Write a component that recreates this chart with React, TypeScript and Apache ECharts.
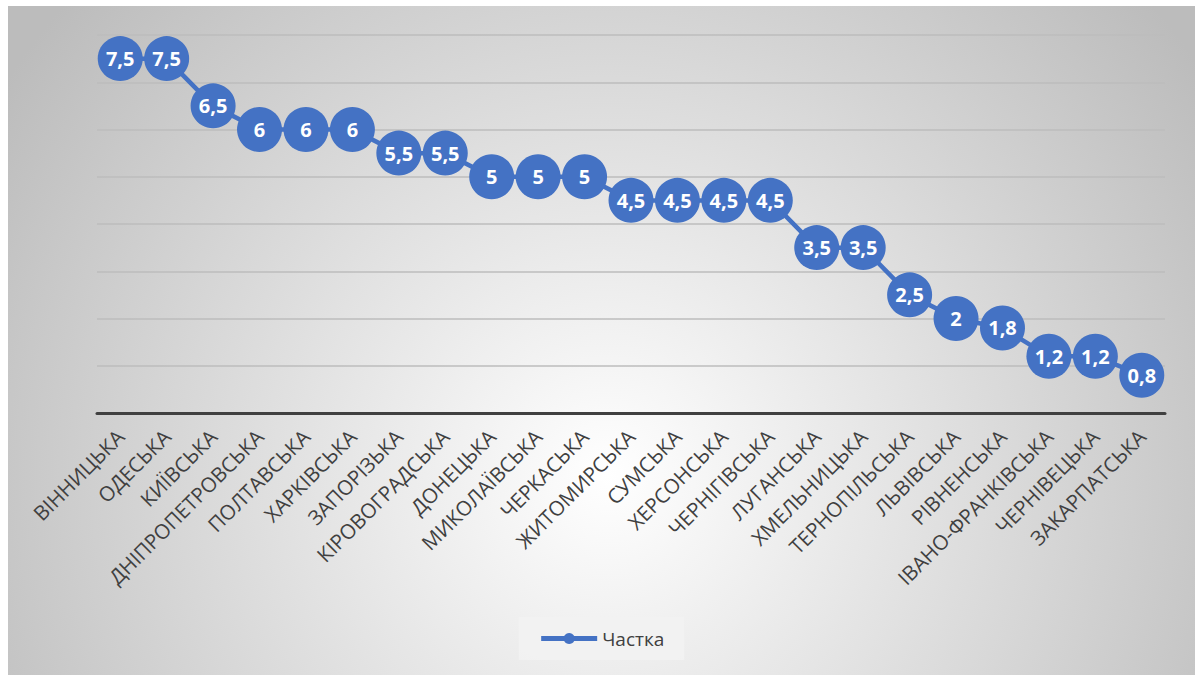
import React, { useEffect, useRef } from "react";
import * as echarts from "echarts";

const categories = [
  "ВІННИЦЬКА", "ОДЕСЬКА", "КИЇВСЬКА", "ДНІПРОПЕТРОВСЬКА", "ПОЛТАВСЬКА",
  "ХАРКІВСЬКА", "ЗАПОРІЗЬКА", "КІРОВОГРАДСЬКА", "ДОНЕЦЬКА", "МИКОЛАЇВСЬКА",
  "ЧЕРКАСЬКА", "ЖИТОМИРСЬКА", "СУМСЬКА", "ХЕРСОНСЬКА", "ЧЕРНІГІВСЬКА",
  "ЛУГАНСЬКА", "ХМЕЛЬНИЦЬКА", "ТЕРНОПІЛЬСЬКА", "ЛЬВІВСЬКА", "РІВНЕНСЬКА",
  "ІВАНО-ФРАНКІВСЬКА", "ЧЕРНІВЕЦЬКА", "ЗАКАРПАТСЬКА",
];
const values = [
  7.5, 7.5, 6.5, 6, 6, 6, 5.5, 5.5, 5, 5, 5, 4.5, 4.5, 4.5, 4.5,
  3.5, 3.5, 2.5, 2, 1.8, 1.2, 1.2, 0.8,
];
const seriesName = "Частка";

const W = 1187;
const H = 669;

export default function App() {
  const ref = useRef<HTMLDivElement>(null);
  useEffect(() => {
    if (!ref.current) return;
    const chart = echarts.init(ref.current, undefined, { renderer: "svg" });
    const font = "'Open Sans', 'Noto Sans', sans-serif";
    chart.setOption({
      animation: false,
      textStyle: { fontFamily: font },
      graphic: [
        {
          type: "rect",
          z: -10,
          silent: true,
          shape: { x: 0, y: 0, width: W, height: H },
          style: {
            fill: new echarts.graphic.RadialGradient(
              600, 470, 720,
              [
                { offset: 0, color: "#ffffff" },
                { offset: 1, color: "#bcbcbc" },
              ],
              true
            ),
          },
        },
      ],
      grid: { left: 89, right: 30, top: 29, bottom: 262, containLabel: false },
      xAxis: {
        type: "category",
        data: categories,
        boundaryGap: true,
        axisLine: { show: true, lineStyle: { color: "#404040", width: 3 } },
        axisTick: { show: false },
        axisLabel: {
          interval: 0,
          rotate: 45,
          margin: 20,
          fontSize: 20.5,
          color: "#404040",
          fontFamily: font,
        },
      },
      yAxis: {
        type: "value",
        min: 0,
        max: 8,
        interval: 1,
        axisLine: { show: false },
        axisTick: { show: false },
        axisLabel: { show: false },
        splitLine: { lineStyle: { color: "#bdbdbd", width: 1.5 } },
      },
      legend: {
        show: true,
        data: [seriesName],
        left: "center",
        top: 611,
        backgroundColor: "rgba(242,242,242,0.9)",
        padding: [12, 20],
        itemWidth: 56,
        itemHeight: 14,
        itemGap: 10,
        lineStyle: { width: 5 },
        textStyle: { fontSize: 19, color: "#404040", fontFamily: font },
      },
      series: [
        {
          name: seriesName,
          type: "line",
          data: values,
          symbol: "circle",
          symbolSize: 45,
          lineStyle: { color: "#4472C4", width: 4.5 },
          itemStyle: { color: "#4472C4" },
          label: {
            show: true,
            position: "inside",
            color: "#ffffff",
            fontWeight: "bold",
            fontSize: 20,
            fontFamily: font,
            formatter: (p: any) => String(p.value).replace(".", ","),
          },
        },
      ],
    });
    return () => chart.dispose();
  }, []);
  return (
    <div
      ref={ref}
      style={{ position: "absolute", left: 8, top: 6, width: W, height: H }}
    />
  );
}
